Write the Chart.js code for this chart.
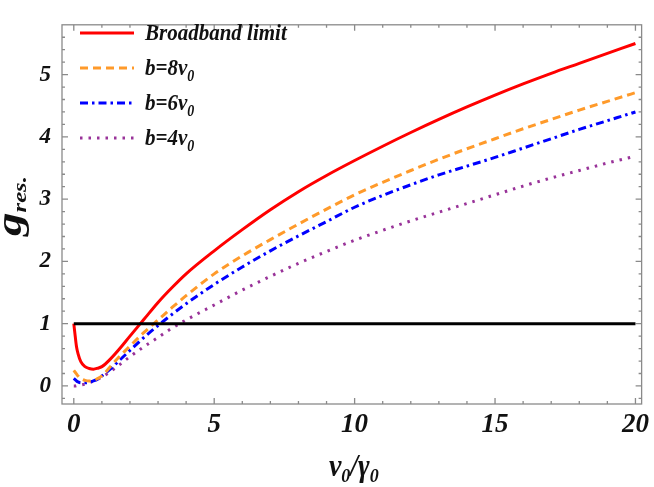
<!DOCTYPE html>
<html><head><meta charset="utf-8">
<script src="https://cdn.jsdelivr.net/npm/chart.js@4/dist/chart.umd.min.js"></script>
<style>html,body{margin:0;padding:0;background:#fff;}#wrap{width:654px;height:487px;}</style>
</head><body><div id="wrap"><canvas id="c" width="654" height="487"></canvas></div>
<script>
// ---- data ----
const xValues   = [0, 0.05, 0.1, 0.15, 0.25, 0.4, 0.55, 0.7, 0.85, 1, 1.3, 1.6, 2, 2.5, 3, 3.5, 4, 5, 6, 7, 8, 9, 10, 11, 12, 13, 14, 15, 16, 17, 18, 19, 20];
const broadband = [1.0, 0.80, 0.62, 0.52, 0.39, 0.31, 0.28, 0.27, 0.285, 0.31, 0.43, 0.58, 0.80, 1.07, 1.34, 1.58, 1.80, 2.17, 2.51, 2.83, 3.12, 3.38, 3.62, 3.85, 4.07, 4.28, 4.48, 4.67, 4.85, 5.02, 5.18, 5.34, 5.50];
const b8 = [0.25, 0.22, 0.19, 0.16, 0.12, 0.09, 0.08, 0.09, 0.12, 0.16, 0.31, 0.46, 0.64, 0.86, 1.06, 1.26, 1.45, 1.80, 2.09, 2.35, 2.60, 2.84, 3.07, 3.27, 3.46, 3.64, 3.81, 3.97, 4.13, 4.28, 4.43, 4.57, 4.71];
const b6 = [0.12, 0.10, 0.08, 0.065, 0.05, 0.05, 0.06, 0.08, 0.11, 0.16, 0.27, 0.40, 0.57, 0.78, 0.97, 1.15, 1.32, 1.63, 1.91, 2.17, 2.41, 2.64, 2.87, 3.06, 3.23, 3.39, 3.53, 3.67, 3.82, 3.97, 4.12, 4.26, 4.40];
const b4 = [0.0, 0.0, 0.005, 0.01, 0.015, 0.03, 0.05, 0.08, 0.11, 0.14, 0.23, 0.33, 0.47, 0.63, 0.78, 0.93, 1.06, 1.30, 1.54, 1.76, 1.97, 2.16, 2.34, 2.50, 2.65, 2.79, 2.93, 3.07, 3.21, 3.34, 3.46, 3.58, 3.69];
const refX = [0, 20];
const refY = [1, 1];
const seriesNames = ['Broadband limit', 'b=8v_0', 'b=6v_0', 'b=4v_0'];
const xTicks = [0, 5, 10, 15, 20];
const yTicks = [0, 1, 2, 3, 4, 5];
const xTitle = 'v_0/γ_0';
const yTitle = 'g_{res.}';

// ---- styling ----
const SERIF = '"Liberation Serif","Times New Roman",serif';
const colors = ['#ff0000', '#ff9a2a', '#0000ff', '#993399'];
const dashes = [[], [8, 5], [8, 4, 2.5, 4], [2.5, 6]];

function pts(xs, ys) { return xs.map((x, i) => ({x: x, y: ys[i]})); }

function drawRich(ctx, text, x, y, size, subSize, subShift, align) {
  const parts = [];
  const re = /_\{([^}]*)\}|_(\S)/g;
  let last = 0, m;
  while ((m = re.exec(text))) {
    if (m.index > last) parts.push({t: text.slice(last, m.index), sub: false});
    parts.push({t: m[1] !== undefined ? m[1] : m[2], sub: true});
    last = re.lastIndex;
  }
  if (last < text.length) parts.push({t: text.slice(last), sub: false});
  const fMain = 'italic bold ' + size + 'px ' + SERIF;
  const fSub = 'italic bold ' + subSize + 'px ' + SERIF;
  let w = 0;
  parts.forEach(p => { ctx.font = p.sub ? fSub : fMain; p.w = ctx.measureText(p.t).width; w += p.w; });
  let cx = align === 'center' ? x - w / 2 : x;
  ctx.textAlign = 'left';
  parts.forEach(p => { ctx.font = p.sub ? fSub : fMain; ctx.fillText(p.t, cx, p.sub ? y + subShift : y); cx += p.w; });
}

const framePlugin = {
  id: 'frame',
  beforeDatasetsDraw(chart) {
    const {ctx, chartArea: a, scales: {x, y}} = chart;
    ctx.save();
    ctx.strokeStyle = '#8a8a8a';
    ctx.lineWidth = 1.3;
    ctx.strokeRect(a.left, a.top, a.right - a.left, a.bottom - a.top);
    ctx.beginPath();
    for (let v = 0; v <= 20; v += 1) {
      const px = x.getPixelForValue(v);
      const L = (v % 5 === 0) ? 6 : 3;
      ctx.moveTo(px, a.bottom); ctx.lineTo(px, a.bottom - L);
      ctx.moveTo(px, a.top); ctx.lineTo(px, a.top + L);
    }
    for (let k = -1; k <= 29; k++) {
      const v = k * 0.2;
      const py = y.getPixelForValue(v);
      if (py < a.top || py > a.bottom) continue;
      const L = (k % 5 === 0) ? 6 : 3;
      ctx.moveTo(a.left, py); ctx.lineTo(a.left + L, py);
      ctx.moveTo(a.right, py); ctx.lineTo(a.right - L, py);
    }
    ctx.stroke();
    ctx.restore();
  },
  afterDraw(chart) {
    const {ctx, chartArea: a} = chart;
    ctx.save();
    ctx.fillStyle = '#111';
    ctx.textBaseline = 'alphabetic';
    // x title
    ctx.save();
    ctx.translate((a.left + a.right) / 2 + 2, 476);
    ctx.scale(1, 1.1);
    drawRich(ctx, xTitle, 0, 0, 28, 18, 5, 'center');
    ctx.restore();
    // y title (rotated)
    ctx.translate(21, 206);
    ctx.rotate(-Math.PI / 2);
    ctx.scale(1.3, 1);
    drawRich(ctx, yTitle, 0, 0, 36, 19, 5, 'center');
    ctx.restore();

    // legend
    ctx.save();
    const rows = [33, 68, 103, 138];
    chart.data.datasets.forEach((ds, i) => {
      if (ds.legendRow === undefined) return;
      const yy = rows[ds.legendRow];
      ctx.strokeStyle = ds.borderColor;
      ctx.lineWidth = 3;
      ctx.setLineDash(ds.borderDash || []);
      ctx.beginPath(); ctx.moveTo(80, yy); ctx.lineTo(134, yy); ctx.stroke();
      ctx.setLineDash([]);
      ctx.fillStyle = '#111';
      ctx.textBaseline = 'alphabetic';
      ctx.save();
      ctx.translate(145, yy + 7);
      ctx.scale(1, 1.12);
      drawRich(ctx, ds.label, 0, 0, 21, 14, 5, 'left');
      ctx.restore();
    });
    ctx.restore();
  }
};

const seriesData = [broadband, b8, b6, b4];
const datasets = [{
  label: 'ref',
  data: pts(refX, refY),
  borderColor: '#000', borderWidth: 3, pointRadius: 0, order: 0
}];
seriesData.forEach((ys, i) => {
  datasets.push({
    label: seriesNames[i],
    legendRow: i,
    data: pts(xValues, ys),
    borderColor: colors[i],
    borderWidth: 3,
    borderDash: dashes[i],
    borderCapStyle: 'butt',
    pointRadius: 0,
    cubicInterpolationMode: 'monotone',
    order: i + 1
  });
});

const tickFontX = {family: SERIF, size: 27, style: 'italic', weight: 'bold'};
const tickFontY = {family: SERIF, size: 23, style: 'italic', weight: 'bold'};

new Chart(document.getElementById('c'), {
  type: 'line',
  data: {datasets: datasets},
  options: {
    responsive: false,
    animation: false,
    layout: {padding: {top: 4, right: 5, left: 0, bottom: 0}},
    plugins: {legend: {display: false}, tooltip: {enabled: false}},
    scales: {
      x: {
        type: 'linear', min: -0.42, max: 20.22,
        afterBuildTicks: s => { s.ticks = xTicks.map(v => ({value: v})); },
        afterFit: s => { s.height = 83; },
        ticks: {font: tickFontX, color: '#111', padding: 5, maxRotation: 0, autoSkip: false, callback: v => String(v)},
        grid: {display: false, drawTicks: false},
        border: {display: false}
      },
      y: {
        type: 'linear', min: -0.29, max: 5.8,
        afterBuildTicks: s => { s.ticks = yTicks.map(v => ({value: v})); },
        afterFit: s => { s.width = 62; },
        ticks: {font: tickFontY, color: '#111', padding: 11, autoSkip: false, callback: v => String(v)},
        grid: {display: false, drawTicks: false},
        border: {display: false}
      }
    }
  },
  plugins: [framePlugin]
});
</script></body></html>
